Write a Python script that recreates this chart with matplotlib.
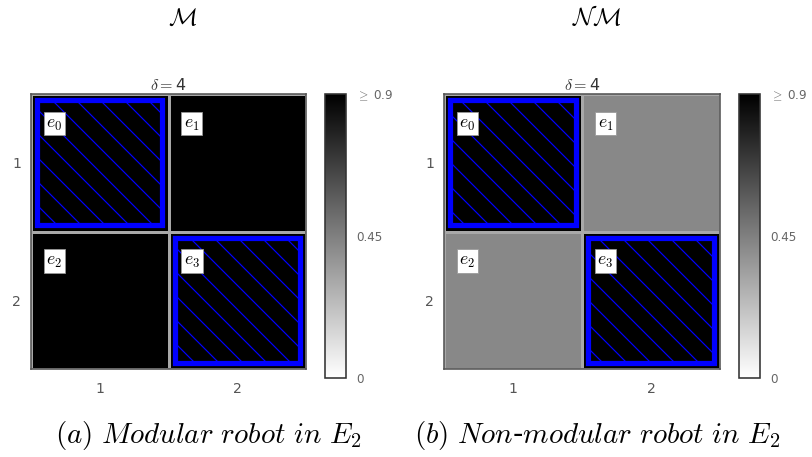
import numpy as np
import matplotlib
matplotlib.use("Agg")
import matplotlib.pyplot as plt
from matplotlib.patches import Rectangle

plt.rcParams['mathtext.fontset'] = 'cm'
plt.rcParams['hatch.linewidth'] = 0.6

# data
modular = [[1.0, 1.0], [1.0, 1.0]]
nonmodular = [[1.0, 0.42], [0.42, 1.0]]
highlight = [(0, 0), (1, 1)]          # (row, col) of selected cells
cell_names = [["$e_0$", "$e_1$"], ["$e_2$", "$e_3$"]]
tick_labels = ["1", "2"]
cbar_ticks = [0, 0.45, 0.9]
cbar_labels = ["0", "0.45", r"$\geq$ 0.9"]
vmax = 0.9
top_titles = [r"$\mathcal{M}$", r"$\mathcal{NM}$"]
captions = [r"$\mathit{(a)\ Modular\ robot\ in\ }E_2$",
            r"$\mathit{(b)\ Non}$-$\mathit{modular\ robot\ in\ }E_2$"]

W, H = 812, 457
fig = plt.figure(figsize=(W / 144, H / 144), dpi=144)

def fr(x0, y0, x1, y1):
    # pixel box -> figure fraction
    return [x0 / W, 1 - y1 / H, (x1 - x0) / W, (y1 - y0) / H]

ax_boxes = [fr(31, 94, 306, 369), fr(444, 94, 720, 369)]
cb_boxes = [fr(325, 94, 346, 378), fr(739, 94, 760, 378)]
title_x = [183, 597]
cap_x = [208, 597]

for k, vals in enumerate([modular, nonmodular]):
    ax = fig.add_axes(ax_boxes[k])
    vals = np.array(vals)
    mesh = ax.pcolormesh(vals, cmap='gray_r', vmin=0, vmax=vmax,
                         edgecolors='#a8a8a8', linewidth=1.5)
    ax.set_xlim(0, 2)
    ax.set_ylim(2, 0)
    ax.set_xticks([0.5, 1.5])
    ax.set_yticks([0.5, 1.5])
    ax.set_xticklabels(tick_labels)
    ax.set_yticklabels(tick_labels)
    ax.tick_params(length=0, labelsize=7, labelcolor='#555555')
    ax.tick_params(axis='x', pad=6.5)
    ax.tick_params(axis='y', pad=5)
    for s in ax.spines.values():
        s.set_color('#555555')
        s.set_linewidth(0.8)
    ax.set_title(r"$\delta=$4", fontsize=8, pad=2, color='#333333')

    for (r, c) in highlight:
        ins = 0.045
        ax.add_patch(Rectangle((c + ins, r + ins), 1 - 2 * ins, 1 - 2 * ins,
                               facecolor='none', edgecolor='#0000ff',
                               linewidth=2.6, hatch='\\\\'))
    for r in range(2):
        for c in range(2):
            ax.text(c + 0.17, r + 0.215, cell_names[r][c], fontsize=9,
                    ha='center', va='center',
                    bbox=dict(boxstyle='square,pad=0.15', facecolor='white',
                              edgecolor='#999999', linewidth=0.4))

    cax = fig.add_axes(cb_boxes[k])
    cb = fig.colorbar(mesh, cax=cax, ticks=cbar_ticks)
    cb.set_ticklabels(cbar_labels)
    cax.tick_params(length=0, labelsize=6, labelcolor='#666666', pad=5)
    cb.outline.set_edgecolor('#333333')
    cb.outline.set_linewidth(0.8)

    fig.text(title_x[k] / W, 1 - 18 / H, top_titles[k], fontsize=12,
             ha='center', va='center')
    fig.text(cap_x[k] / W, 1 - 436 / H, captions[k], fontsize=14.5,
             ha='center', va='center')

fig.savefig("out.png", dpi=144)
